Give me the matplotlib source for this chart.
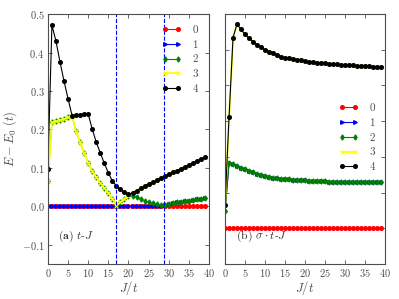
import numpy as np
import matplotlib
matplotlib.use("Agg")
import matplotlib.pyplot as plt

plt.rcParams['font.family'] = 'serif'
plt.rcParams['font.serif'] = ['cmr10', 'DejaVu Serif']
plt.rcParams['mathtext.fontset'] = 'cm'
plt.rcParams['axes.formatter.use_mathtext'] = True
plt.rcParams['axes.unicode_minus'] = True

# J/t values
J = np.arange(0, 40)
labels = ['0', '1', '2', '3', '4']

# (a) t-J
a_state0 = [0.0] * 40
a_state2 = [0.066, 0.218, 0.221, 0.224, 0.227, 0.231, 0.234, 0.195, 0.167, 0.139,
            0.113, 0.091, 0.076, 0.061, 0.048, 0.035, 0.020, 0.002, 0.011, 0.020,
            0.028, 0.027, 0.023, 0.019, 0.015, 0.011, 0.008, 0.005, 0.003, 0.004,
            0.006, 0.008, 0.010, 0.011, 0.013, 0.015, 0.016, 0.018, 0.019, 0.021]
a_state4 = [0.098, 0.471, 0.430, 0.376, 0.326, 0.280, 0.236, 0.237, 0.238, 0.240,
            0.240, 0.201, 0.167, 0.139, 0.112, 0.087, 0.066, 0.053, 0.044, 0.038,
            0.031, 0.035, 0.041, 0.047, 0.053, 0.058, 0.063, 0.068, 0.073, 0.078,
            0.083, 0.088, 0.093, 0.098, 0.103, 0.108, 0.113, 0.118, 0.123, 0.127]
a_state1 = [0.0] * 29 + a_state2[29:]
a_state3 = a_state2[:21] + a_state4[21:]
a_crossings = [17.0, 28.8]

# (b) sigma t-J
b_state0 = [-0.1] * 40
b_state2 = [-0.052, 0.083, 0.079, 0.075, 0.070, 0.065, 0.061, 0.057, 0.053, 0.050,
            0.047, 0.044, 0.042, 0.040, 0.039, 0.038, 0.037, 0.036, 0.035, 0.034,
            0.034, 0.033, 0.033, 0.032, 0.032, 0.032, 0.031, 0.031, 0.031, 0.030,
            0.030, 0.030, 0.030, 0.030, 0.029, 0.029, 0.029, 0.029, 0.029, 0.029]
b_state4 = [-0.035, 0.211, 0.434, 0.472, 0.457, 0.443, 0.432, 0.423, 0.414, 0.407,
            0.400, 0.395, 0.391, 0.386, 0.381, 0.378, 0.376, 0.373, 0.371, 0.370,
            0.368, 0.367, 0.365, 0.364, 0.363, 0.362, 0.361, 0.360, 0.359, 0.358,
            0.358, 0.357, 0.356, 0.355, 0.355, 0.354, 0.354, 0.353, 0.353, 0.352]
b_state1 = list(b_state2)
b_state3 = list(b_state4)

styles = [dict(color='red', marker='o', lw=0.8, ms=2.6),
          dict(color='blue', marker='>', lw=0.8, ms=2.6),
          dict(color='green', marker='d', lw=0.8, ms=2.6),
          dict(color='yellow', marker='x', lw=1.3, ms=2.6, mew=0.8),
          dict(color='black', marker='o', lw=0.8, ms=2.6)]

fig = plt.figure(figsize=(3.99, 2.99), dpi=100)
ax1 = fig.add_axes([0.120, 0.117, 0.404, 0.836])
ax2 = fig.add_axes([0.564, 0.117, 0.401, 0.836])

for ax, series in [(ax1, [a_state0, a_state1, a_state2, a_state3, a_state4]),
                   (ax2, [b_state0, b_state1, b_state2, b_state3, b_state4])]:
    for vals, lab, st in zip(series, labels, styles):
        ax.plot(J, vals, label=lab, **st)
    ax.set_xlim(0, 40)
    ax.set_xticks(np.arange(0, 41, 5))
    ax.tick_params(direction='in', top=True, right=True, labelsize=7.5,
                   length=3, width=0.6, pad=2.5, colors='0.3', labelcolor='0.3')
    for sp in ax.spines.values():
        sp.set_color('0.3')
        sp.set_linewidth(0.8)
    ax.set_xlabel(r'$J/t$', fontsize=9, color='0.3', labelpad=0)

for xc in a_crossings:
    ax1.axvline(xc, color='blue', ls='--', lw=0.8)

ax1.set_ylim(-0.15, 0.5)
ax1.set_yticks(np.arange(-0.1, 0.51, 0.1))
ax1.set_ylabel(r'$E-E_0\ (t)$', fontsize=9, color='0.3', labelpad=2)
ax1.legend(loc='upper right', frameon=False, numpoints=2, fontsize=8,
           handlelength=1.8, handletextpad=1.0, labelspacing=0.45,
           borderaxespad=0.6, labelcolor='0.3')
ax1.text(0.06, 0.1, r'$\mathbf{(a)}\ t$-$J$', transform=ax1.transAxes,
         fontsize=8.5, color='0.2')

ax2.set_ylim(-0.2, 0.5)
ax2.set_yticks(np.arange(-0.2, 0.51, 0.1))
ax2.set_yticklabels([])
ax2.legend(loc='center right', bbox_to_anchor=(1.0, 0.505), frameon=False,
           numpoints=2, fontsize=8, handlelength=1.8, handletextpad=1.0,
           labelspacing=0.45, labelcolor='0.3')
ax2.text(0.07, 0.1, r'(b) $\sigma\cdot t$-$J$', transform=ax2.transAxes,
         fontsize=8.5, color='0.2')

fig.savefig('out.png', dpi=100)
